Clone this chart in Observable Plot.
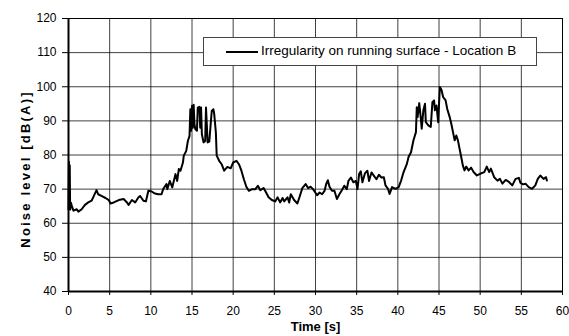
<!DOCTYPE html>
<html>
<head>
<meta charset="utf-8">
<script src="https://cdn.jsdelivr.net/npm/d3@7"></script>
<script src="https://cdn.jsdelivr.net/npm/@observablehq/plot@0.6"></script>
<style>
  html, body { margin: 0; padding: 0; background: #fff; }
  #wrap { position: relative; width: 569px; height: 336px; font-family: "Liberation Sans", Arial, sans-serif; }
  #legend { position: absolute; left: 203px; top: 37px; width: 334px; height: 29px; background: #fff; border: 1px solid #444; box-sizing: border-box; }
  #legend .swatch { position: absolute; left: 22px; top: 13px; width: 32px; height: 2px; background: #000; }
  #legend .label { position: absolute; left: 57px; top: 5px; font-size: 13.5px; color: #000; white-space: nowrap; }
</style>
</head>
<body>
<div id="wrap"></div>
<script>
const seriesName = "Irregularity on running surface - Location B";
const xTitle = "Time [s]";
const yTitle = "Noise level [dB(A)]";
const xTicks = [0, 5, 10, 15, 20, 25, 30, 35, 40, 45, 50, 55, 60];
const yTicks = [40, 50, 60, 70, 80, 90, 100, 110, 120];

const timeS = [0.0,0.05,0.1,0.15,0.2,0.3,0.4,0.6,1.0,1.2,1.6,2.0,2.4,2.8,3.0,3.4,3.6,4.0,4.5,4.9,5.1,5.5,6.1,6.7,7.1,7.3,7.7,8.1,8.5,8.7,9.1,9.4,9.7,10.1,10.5,10.9,11.3,11.5,11.9,12.0,12.3,12.6,13.0,13.2,13.4,13.6,13.9,14.0,14.3,14.5,14.7,14.8,14.9,15.0,15.1,15.2,15.3,15.4,15.6,15.7,15.9,16.0,16.1,16.2,16.4,16.6,16.7,16.9,17.1,17.3,17.4,17.6,17.7,17.9,18.0,18.3,18.6,18.9,19.3,19.7,20.0,20.4,20.7,21.0,21.3,21.6,21.9,22.3,22.7,23.0,23.3,23.7,24.0,24.3,24.7,25.1,25.4,25.7,26.0,26.2,26.6,26.8,27.0,27.4,27.8,28.1,28.4,28.8,29.1,29.4,29.7,30.2,30.5,30.8,31.1,31.3,31.5,31.7,32.0,32.3,32.6,32.9,33.2,33.5,33.8,34.0,34.3,34.6,34.9,35.1,35.3,35.5,35.7,36.0,36.3,36.5,36.8,37.1,37.4,37.7,38.0,38.3,38.5,38.8,39.0,39.3,39.7,40.1,40.4,40.7,41.1,41.3,41.6,41.9,42.2,42.3,42.4,42.6,42.8,42.9,43.1,43.3,43.4,43.7,44.0,44.2,44.4,44.5,44.7,44.9,45.1,45.3,45.5,45.8,46.0,46.3,46.5,46.7,46.9,47.1,47.3,47.5,47.7,47.9,48.1,48.3,48.6,48.9,49.2,49.6,50.0,50.5,50.8,51.1,51.3,51.7,52.1,52.4,52.7,53.1,53.5,53.9,54.3,54.7,54.9,55.2,55.5,55.9,56.3,56.7,57.0,57.3,57.7,58.0,58.1];
const noiseDb = [64.0,78.0,65.0,77.0,64.0,66.0,65.1,63.7,64.1,63.4,64.1,65.4,66.1,66.6,67.6,69.7,68.5,68.0,67.4,66.8,65.8,66.1,66.8,67.1,66.1,65.4,66.8,66.1,67.6,68.0,66.6,66.4,69.5,69.3,68.7,68.5,68.5,70.0,71.5,70.0,72.4,70.5,74.4,72.4,75.9,75.4,77.8,79.8,81.2,84.1,85.6,93.4,87.1,94.4,88.0,94.7,89.0,87.6,87.1,93.9,94.1,88.0,93.9,86.1,83.7,84.1,93.9,83.7,83.9,90.0,92.9,93.4,92.0,86.6,79.8,78.3,77.3,75.4,76.5,76.1,77.8,78.3,77.3,75.4,72.9,70.7,69.5,70.0,70.0,71.0,69.7,70.3,69.0,67.6,66.8,66.4,67.6,66.1,67.4,66.4,67.6,66.1,68.5,66.8,65.8,68.0,70.3,71.5,70.3,70.7,70.0,68.2,69.0,68.5,69.5,71.5,72.6,70.7,69.5,69.5,67.1,68.5,69.7,71.0,70.0,72.4,73.4,72.0,72.4,70.0,74.4,75.2,72.0,74.6,75.4,72.4,74.9,73.9,72.9,74.2,73.4,73.5,71.1,70.1,68.6,70.6,70.1,70.6,72.5,75.0,77.4,79.4,80.8,84.3,86.7,94.0,91.1,95.2,90.6,87.7,93.1,95.0,89.6,88.7,88.2,95.5,96.0,93.1,94.5,89.6,99.9,99.1,97.0,96.0,93.5,91.1,89.1,86.7,84.3,85.7,84.3,81.8,79.4,76.9,75.5,76.6,75.5,76.3,75.0,74.0,74.5,75.0,76.6,75.0,76.0,73.5,72.5,73.0,71.6,72.7,72.1,71.1,73.0,73.3,71.8,71.4,71.6,70.6,70.1,71.1,73.0,74.0,73.0,73.5,72.5];

const rows = timeS.map((t, i) => ({t, db: noiseDb[i]}));

const chart = Plot.plot({
  width: 569,
  height: 336,
  marginLeft: 68,
  marginRight: 7,
  marginTop: 18,
  marginBottom: 45,
  style: {fontFamily: "'Liberation Sans', Arial, sans-serif", fontSize: "12px", color: "#000", background: "#fff"},
  x: {domain: [0, 60], ticks: xTicks},
  y: {domain: [40, 120], ticks: yTicks},
  marks: [
    Plot.gridX(xTicks, {stroke: "#000", strokeOpacity: 0.75, strokeWidth: 1}),
    Plot.gridY(yTicks, {stroke: "#000", strokeOpacity: 0.75, strokeWidth: 1}),
    Plot.frame({stroke: "#000", strokeWidth: 1}),
    Plot.axisX(xTicks, {tickSize: 4, tickPadding: 11, label: null, fontSize: 12, tickFormat: d => String(d)}),
    Plot.axisY(yTicks, {tickSize: 6, tickPadding: 6, label: null, fontSize: 12, tickFormat: d => String(d)}),
    Plot.ruleX([0], {stroke: "#000", strokeWidth: 2}),
    Plot.ruleY([40], {stroke: "#000", strokeWidth: 2}),
    Plot.line(rows, {x: "t", y: "db", stroke: "#000", strokeWidth: 2, curve: "linear"}),
    Plot.text([xTitle], {frameAnchor: "bottom", dy: 39, textAnchor: "middle", fontWeight: "bold", fontSize: 13, fill: "#000"}),
    Plot.text([yTitle], {frameAnchor: "left", dx: -43, dy: 14, rotate: -90, textAnchor: "middle", fontWeight: "bold", fontSize: 13, fill: "#000"})
  ]
});

const wrap = document.getElementById("wrap");
wrap.appendChild(chart);

// widen the y title's letter spacing to match the reference's length
chart.querySelectorAll("text").forEach(t => {
  if (t.textContent === yTitle) t.style.letterSpacing = "2.2px";
});

const legend = document.createElement("div");
legend.id = "legend";
legend.innerHTML = '<div class="swatch"></div><div class="label"></div>';
legend.querySelector(".label").textContent = seriesName;
wrap.appendChild(legend);
</script>
</body>
</html>
